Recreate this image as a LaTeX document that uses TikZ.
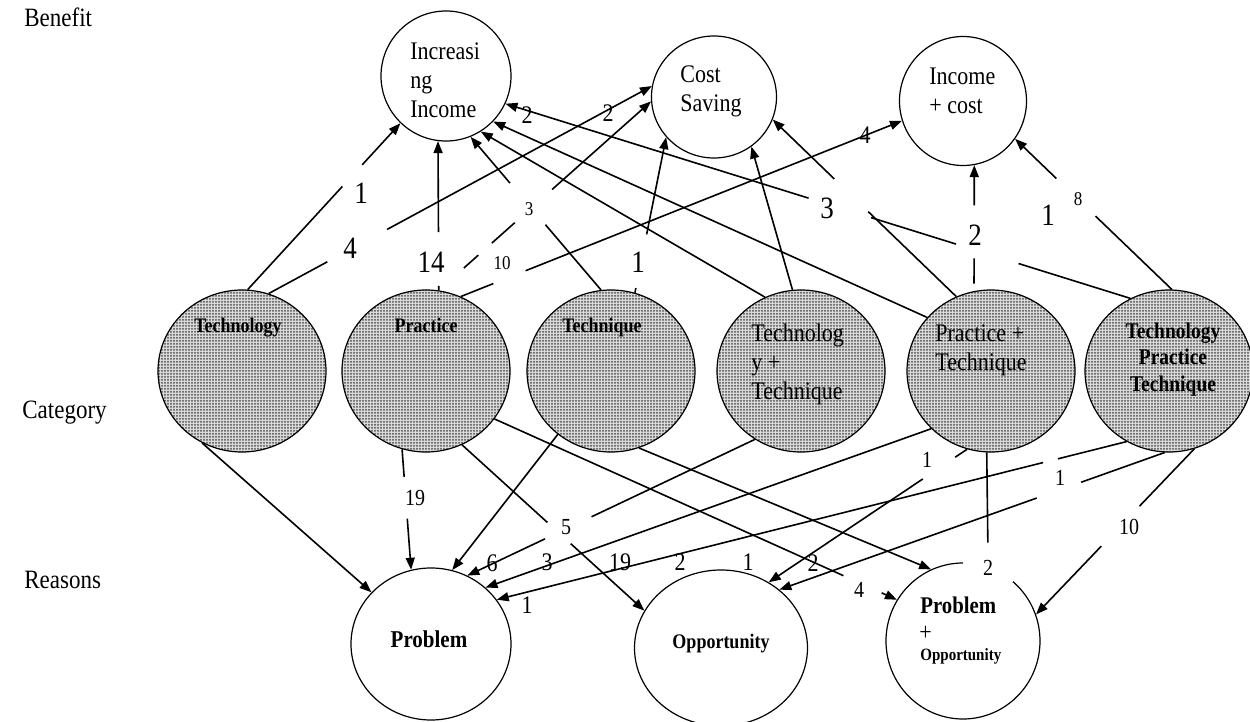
\documentclass[tikz,border=0pt]{standalone}
\usepackage{fontspec}
\setmainfont{Liberation Serif}
\usepackage{graphicx}
\usetikzlibrary{shapes.geometric,arrows.meta,calc,patterns.meta}
\newcommand\tallbox[1]{\scalebox{1}[1.15]{#1}}

% fine halftone dots for the category bubbles
\tikzdeclarepattern{
  name=finedots,
  type=uncolored,
  bounding box={(-0.75pt,-0.75pt) and (0.75pt,0.75pt)},
  tile size={(1.5pt,1.5pt)},
  code={\fill (0pt,0pt) circle [radius=0.5pt];}
}

\begin{document}
\begin{tikzpicture}[x=0.5pt,y=-0.5pt,
  bubble/.style={ellipse, draw, line width=0.6pt, inner sep=0pt},
  catg/.style={bubble, preaction={fill=black!14}, pattern=finedots, pattern color=black!70,
               minimum width=84pt, minimum height=81pt},
  txt/.style={inner sep=0pt, font=\fontsize{11}{12.6}\selectfont},
  cattxt/.style={inner sep=0pt, font=\fontsize{9}{10}\selectfont\bfseries},
  side/.style={inner sep=0pt, anchor=base west, font=\fontsize{11.5}{13}\selectfont},
  link/.style={line width=0.8pt},
  arr/.style={line width=0.8pt, -{Triangle[length=6pt,width=4.5pt]}},
  bigl/.style={inner sep=0pt, font=\fontsize{13.5}{15}\selectfont},
  medl/.style={inner sep=0pt, font=\fontsize{11}{13}\selectfont},
  lowl/.style={inner sep=0pt, font=\fontsize{10}{12}\selectfont},
  smalll/.style={inner sep=0pt, font=\fontsize{8.5}{10}\selectfont}
]
\useasboundingbox (0,0) rectangle (1250,722);

% row titles
\node[side] (tBen) at (24,27) {\tallbox{Benefit}};
\node[side] (tCat) at (22,418) {\tallbox{Category}};
\node[side] (tRea) at (24,588) {\tallbox{Reasons}};

% benefit bubbles
\node[bubble, minimum width=65pt, minimum height=65pt] (inc) at (446,76) {};
\node[bubble, minimum width=62.5pt, minimum height=61pt] (cost) at (714,97) {};
\node[bubble, minimum width=63.5pt, minimum height=64.5pt] (ic) at (963,101) {};
\node[txt, anchor=base west] (incT) at (410,60)
  {\tallbox{\begin{tabular}[t]{@{}l@{}}Increasi\\ng\\Income\end{tabular}}};
\node[txt, anchor=base west] (costT) at (680,83)
  {\tallbox{\begin{tabular}[t]{@{}l@{}}Cost\\Saving\end{tabular}}};
\node[txt, anchor=base west] (icT) at (929,85)
  {\tallbox{\begin{tabular}[t]{@{}l@{}}Income\\+ cost\end{tabular}}};

% category bubbles
\node[catg] (tech)  at (242,371) {};
\node[catg] (prac)  at (426,371) {};
\node[catg] (techn) at (611,371) {};
\node[catg] (tt)    at (801,371) {};
\node[catg] (pt)    at (991,371) {};
\node[catg] (tpt)   at (1169,371) {};
\node[cattxt, anchor=base] (techT)  at (238,333) {\tallbox{Technology}};
\node[cattxt, anchor=base] (pracT)  at (426,333) {\tallbox{Practice}};
\node[cattxt, anchor=base] (technT) at (602,333) {\tallbox{Technique}};
\node[txt, anchor=base west] (ttT) at (751,342)
  {\tallbox{\begin{tabular}[t]{@{}l@{}}Technolog\\y +\\Technique\end{tabular}}};
\node[txt, anchor=base west] (ptT) at (935,342)
  {\tallbox{\begin{tabular}[t]{@{}l@{}}Practice +\\Technique\end{tabular}}};
\node[inner sep=0pt, anchor=base, font=\fontsize{9.75}{11.7}\selectfont\bfseries] (tptT) at (1173,338)
  {\tallbox{\begin{tabular}[t]{@{}c@{}}Technology\\Practice\\Technique\end{tabular}}};

% reason bubbles
\node[bubble, minimum width=80pt, minimum height=76pt] (prob) at (431,644) {};
\node[bubble, minimum width=86.5pt, minimum height=78pt] (opp) at (721,648) {};
\node[bubble, minimum width=77pt, minimum height=78pt] (po) at (963,641) {};
\node[inner sep=0pt, anchor=base, font=\fontsize{10.5}{12}\selectfont\bfseries] (probT) at (429,647) {\tallbox{Problem}};
\node[inner sep=0pt, anchor=base, font=\fontsize{9}{11}\selectfont\bfseries] (oppT) at (721,648) {\tallbox{Opportunity}};
\node[inner sep=0pt, anchor=base west, font=\fontsize{10.4}{12}\selectfont\bfseries] (poT1) at (920,613) {\tallbox{Problem}};
\node[inner sep=0pt, anchor=base west, font=\fontsize{11}{12}\selectfont] (poT2) at (919,640) {\tallbox{+}};
\node[inner sep=0pt, anchor=base west, font=\fontsize{7.5}{9}\selectfont\bfseries] (poT3) at (920,660) {\tallbox{Opportunity}};

% category -> benefit
\draw[arr] (tech.86) -- ($(tech.86)!0.62!(inc.226)$) ($(tech.86)!0.75!(inc.226)$) -- (inc.226);
\draw[arr] (tech.71) -- ($(tech.71)!0.153!(cost.170)$) ($(tech.71)!0.309!(cost.170)$) -- (cost.170);
\draw[arr] (prac.81) -- ($(prac.81)!0.03!(inc.263)$) ($(prac.81)!0.39!(inc.263)$) -- (inc.263);
\draw[arr] ($(prac.81)!0.118!(cost.184)$) -- ($(prac.81)!0.186!(cost.184)$)
           ($(prac.81)!0.25!(cost.184)$) -- ($(prac.81)!0.358!(cost.184)$)
           ($(prac.81)!0.534!(cost.184)$) -- (cost.184);
\draw[arr] (prac.65) -- ($(prac.65)!0.074!(ic.198)$) ($(prac.65)!0.147!(ic.198)$) -- (ic.198);
\draw[arr] (techn.97) -- ($(techn.97)!0.426!(inc.292)$) ($(techn.97)!0.698!(inc.292)$) -- (inc.292);
\draw[arr] (techn.73) -- ($(techn.73)!0.03!(cost.220)$) ($(techn.73)!0.375!(cost.220)$) -- (cost.220);
\draw[arr] (tt.116) -- (inc.302);
\draw[arr] (tt.96) -- (cost.307);
\draw[arr] (pt.140) -- (inc.316);
\draw[arr] (pt.115) -- ($(pt.115)!0.48!(cost.339)$) ($(pt.115)!0.665!(cost.339)$) -- (cost.339);
\draw[arr] ($(pt.102)!0.06!(ic.280)$) -- ($(pt.102)!0.26!(ic.280)$) ($(pt.102)!0.68!(ic.280)$) -- (ic.280);
\draw[arr] (tpt.118) -- ($(tpt.118)!0.179!(inc.335)$)
           ($(tpt.118)!0.279!(inc.335)$) -- ($(tpt.118)!0.415!(inc.335)$)
           ($(tpt.118)!0.515!(inc.335)$) -- (inc.335);
\draw[arr] (tpt.88) -- ($(tpt.88)!0.487!(ic.324)$) ($(tpt.88)!0.737!(ic.324)$) -- (ic.324);

% category -> reasons
\draw[arr] (tech.241) -- (prob.139);
\draw[arr] (prac.253) -- ($(prac.253)!0.23!(prob.105)$) ($(prac.253)!0.576!(prob.105)$) -- (prob.105);
\draw[arr] (prac.296) -- ($(prac.296)!0.468!(opp.154)$) ($(prac.296)!0.596!(opp.154)$) -- (opp.154);
\draw[arr] (prac.325) -- ($(prac.325)!0.867!(po.148)$) ($(prac.325)!0.962!(po.148)$) -- (po.148);
\draw[arr] (techn.230) -- (prob.74);
\draw[arr] (techn.290) -- (po.114);
\draw[arr] (tt.236) -- ($(tt.236)!0.568!(prob.62)$) ($(tt.236)!0.73!(prob.62)$) -- (prob.62);
\draw[arr] (pt.224) -- (prob.46);
\draw[arr] (pt.253) -- ($(pt.253)!0.06!(opp.54)$) ($(pt.253)!0.223!(opp.54)$) -- (opp.54);
\draw[arr] (tpt.239) -- ($(tpt.239)!0.109!(prob.34)$) ($(tpt.239)!0.1325!(prob.34)$) -- (prob.34);
\draw[arr] (tpt.267) -- ($(tpt.267)!0.217!(opp.45)$) ($(tpt.267)!0.332!(opp.45)$) -- (opp.45);
\draw[arr] (tpt.288) -- ($(tpt.288)!0.346!(po.20)$) ($(tpt.288)!0.588!(po.20)$) -- (po.20);

% count on the vertical link into Problem + Opportunity (its box breaks the outline)
\node[lowl, fill=white, minimum width=25pt, minimum height=14pt] (lpo) at (988,568) {\tallbox{2}};
\draw[link, shorten >=5.5pt] (pt.267) -- (lpo.north);

% counts, upper part
\node[bigl] (u1)  at (361,193) {\tallbox{1}};
\node[bigl] (u2)  at (350,248) {\tallbox{4}};
\node[bigl] (u3)  at (431,262) {\tallbox{14}};
\node[bigl] (u4)  at (638,262) {\tallbox{1}};
\node[bigl] (u5)  at (827,208) {\tallbox{3}};
\node[bigl] (u6)  at (975,235) {\tallbox{2}};
\node[bigl] (u7)  at (1048,215) {\tallbox{1}};
\node[smalll] (u8)  at (529,209) {\tallbox{3}};
\node[smalll] (u9)  at (502,263) {\tallbox{10}};
\node[smalll] (u10) at (1078,199) {\tallbox{8}};
\node[medl] (u11) at (865,135) {\tallbox{4}};
\node[medl] (u12) at (527,115) {\tallbox{2}};
\node[medl] (u13) at (608,113) {\tallbox{2}};

% counts, lower part
\node[lowl] (d1)  at (415,498) {\tallbox{19}};
\node[lowl] (d2)  at (566,527) {\tallbox{5}};
\node[lowl] (d3)  at (927,460) {\tallbox{1}};
\node[lowl] (d4)  at (1060,478) {\tallbox{1}};
\node[lowl] (d5)  at (859,590) {\tallbox{4}};
\node[lowl] (d6)  at (1129,527) {\tallbox{10}};
\node[medl] (d7)  at (492,563) {\tallbox{6}};
\node[medl] (d8)  at (547,562) {\tallbox{3}};
\node[medl] (d9)  at (620,562) {\tallbox{19}};
\node[medl] (d10) at (680,562) {\tallbox{2}};
\node[medl] (d11) at (748,562) {\tallbox{1}};
\node[medl] (d12) at (527,605) {\tallbox{1}};
\node[medl] (d13) at (813,563) {\tallbox{2}};
\end{tikzpicture}
\end{document}
